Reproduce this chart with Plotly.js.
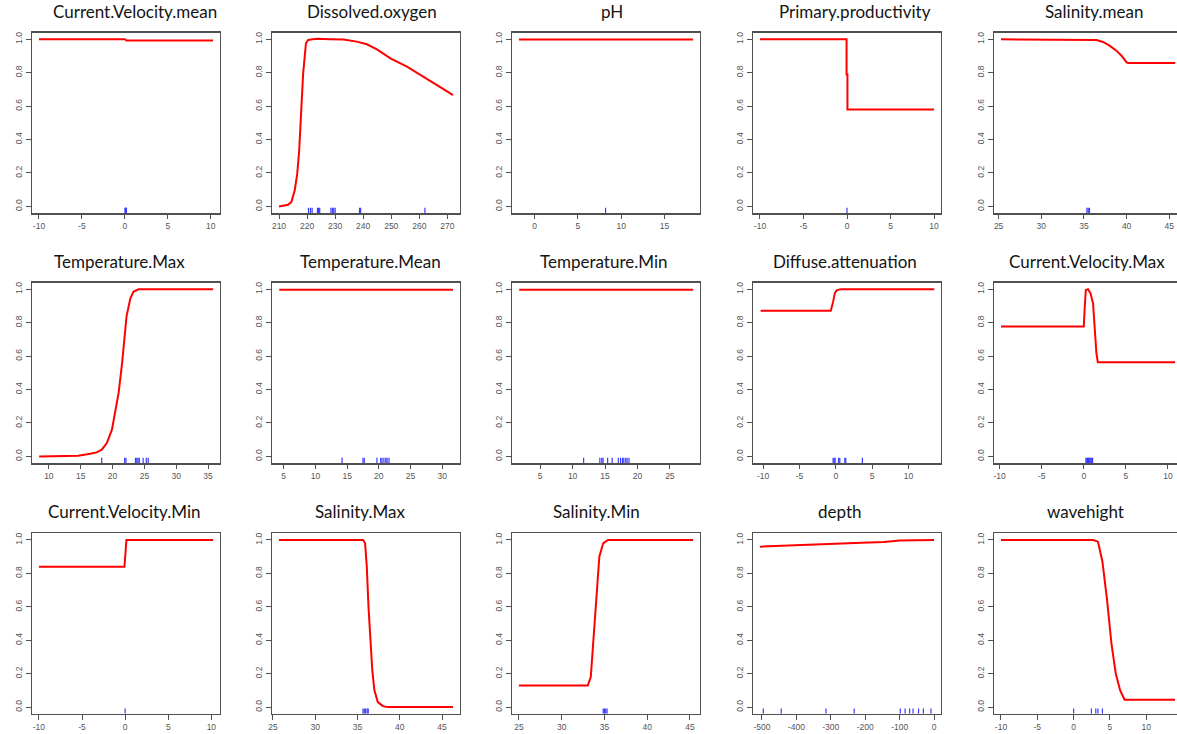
<!DOCTYPE html>
<html>
<head>
<meta charset="utf-8">
<script src="https://cdn.plot.ly/plotly-3.0.1.min.js"></script>
<style>
  html, body { margin: 0; padding: 0; overflow: hidden; background: #fff; }
  #chart { width: 1190px; height: 734px; }
</style>
</head>
<body>
<div id="chart"></div>
<script>
// ---- response curves (predictor value -> fitted response) and rug positions ----
const titles = [
  "Current.Velocity.mean", "Dissolved.oxygen", "pH", "Primary.productivity", "Salinity.mean",
  "Temperature.Max", "Temperature.Mean", "Temperature.Min", "Diffuse.attenuation", "Current.Velocity.Max",
  "Current.Velocity.Min", "Salinity.Max", "Salinity.Min", "depth", "wavehight"
];

const velMeanX = [-10, 0.0, 0.2, 10.27];
const velMeanY = [1.0, 1.0, 0.993, 0.993];
const velMeanRug = [0.02, 0.08, 0.12, 0.18];

const oxyX = [210.0, 212.0, 213.2, 214.4, 215.6, 216.5, 217.2, 217.8, 218.6, 219.6, 220.4, 222.0, 224.0, 228.0, 233.0, 237.7, 241.3, 244.9, 249.7, 255.6, 261.6, 267.6, 272.0];
const oxyY = [0.0, 0.004, 0.01, 0.026, 0.096, 0.196, 0.336, 0.536, 0.796, 0.976, 0.996, 1.0, 1.003, 1.0, 0.998, 0.986, 0.97, 0.94, 0.886, 0.836, 0.776, 0.712, 0.666];
const oxyRug = [220.5, 221.2, 221.8, 223.7, 224.1, 224.5, 228.5, 229.0, 229.5, 230.0, 238.7, 239.1, 262.0];

const phX = [-1.8, 18.3];
const phY = [0.998, 0.998];
const phRug = [8.2];

const prodX = [-10, -0.05, -0.05, 0.05, 0.05, 10];
const prodY = [1.0, 1.0, 0.79, 0.79, 0.58, 0.58];
const prodRug = [0.0];

const salMeanX = [25.28, 35.3, 36.0, 36.46, 37.24, 38.0, 38.8, 39.4, 40.0, 40.2, 45.7];
const salMeanY = [1.0, 1.0, 0.999, 0.996, 0.984, 0.962, 0.932, 0.902, 0.862, 0.858, 0.858];
const salMeanRug = [35.35, 35.5, 35.65];

const tMaxX = [8.47, 14.6, 16.5, 17.5, 18.3, 19.1, 19.9, 20.4, 20.95, 21.5, 21.8, 22.2, 22.8, 23.3, 24.1, 35.8];
const tMaxY = [0.0, 0.004, 0.016, 0.024, 0.04, 0.08, 0.16, 0.26, 0.38, 0.56, 0.70, 0.84, 0.946, 0.986, 1.0, 1.0];
const tMaxRug = [18.3, 21.9, 22.1, 23.6, 23.8, 24.0, 24.2, 24.8, 25.3, 25.6];

const tMeanX = [4.3, 31.7];
const tMeanY = [0.997, 0.997];
const tMeanRug = [14.2, 17.5, 17.7, 19.7, 20.3, 20.5, 20.8, 21.1, 21.3, 21.6];

const tMinX = [1.77, 28.6];
const tMinY = [0.997, 0.997];
const tMinRug = [11.7, 14.2, 14.5, 14.7, 15.4, 16.1, 17.05, 17.4, 17.7, 17.9, 18.2, 18.4, 18.7];

const diffX = [-10.35, -0.69, -0.37, -0.14, 0.09, 0.4, 0.78, 13.55];
const diffY = [0.872, 0.872, 0.926, 0.976, 0.992, 0.998, 1.0, 1.0];
const diffRug = [-0.37, -0.23, -0.09, 0.37, 0.55, 1.24, 1.37, 3.66];

const velMaxX = [-9.84, 0.0, 0.12, 0.24, 0.5, 0.8, 1.1, 1.3, 1.5, 1.67, 10.85];
const velMaxY = [0.777, 0.777, 0.9, 0.996, 1.0, 0.976, 0.916, 0.777, 0.617, 0.564, 0.564];
const velMaxRug = [0.25, 0.35, 0.45, 0.55, 0.65, 0.75, 0.85, 0.95, 1.05];

const velMinX = [-10, -0.08, 0.15, 10.2];
const velMinY = [0.84, 0.84, 1.0, 1.0];
const velMinRug = [0.0];

const salMaxX = [25.71, 35.65, 35.9, 36.1, 36.3, 36.5, 36.75, 37.0, 37.4, 38.0, 38.6, 46.3];
const salMaxY = [1.0, 1.0, 0.98, 0.84, 0.60, 0.40, 0.22, 0.10, 0.03, 0.006, 0.0, 0.0];
const salMaxRug = [35.65, 35.8, 35.96, 36.15, 36.27];

const salMinX = [25.0, 33.05, 33.4, 33.7, 34.1, 34.4, 34.85, 35.4, 45.36];
const salMinY = [0.13, 0.13, 0.18, 0.4, 0.66, 0.9, 0.98, 1.0, 1.0];
const salMinRug = [34.85, 35.0, 35.15, 35.3];

const depthX = [-506, -418, -314, -210, -145, -120, -100, 0];
const depthY = [0.96, 0.968, 0.976, 0.984, 0.988, 0.995, 0.997, 1.0];
const depthRug = [-496, -444, -314, -232, -98, -84, -71, -61, -45, -31, -9];

const waveX = [-10, 2.7, 3.35, 3.96, 4.6, 5.2, 5.8, 6.4, 7.0, 13.95];
const waveY = [1.0, 1.0, 0.99, 0.87, 0.64, 0.38, 0.2, 0.1, 0.044, 0.044];
const waveRug = [0.0, 2.44, 3.05, 3.35, 3.96];

const yTicks = [0, 0.2, 0.4, 0.6, 0.8, 1.0];

const curves = [
  [velMeanX, velMeanY, velMeanRug], [oxyX, oxyY, oxyRug], [phX, phY, phRug],
  [prodX, prodY, prodRug], [salMeanX, salMeanY, salMeanRug],
  [tMaxX, tMaxY, tMaxRug], [tMeanX, tMeanY, tMeanRug], [tMinX, tMinY, tMinRug],
  [diffX, diffY, diffRug], [velMaxX, velMaxY, velMaxRug],
  [velMinX, velMinY, velMinRug], [salMaxX, salMaxY, salMaxRug], [salMinX, salMinY, salMinRug],
  [depthX, depthY, depthRug], [waveX, waveY, waveRug]
];

// ---- panel geometry (pixels) and axis settings ----
const FIG_W = 1190, FIG_H = 734;
const colLeft = [32, 272, 512, 753, 994];
const rowTop = [32.6, 282.6, 533.3];
const boxW = 188, boxH = 180.5;
const Y_RANGE = [-0.04, 1.04];
const xRanges = [
  [-10.81, 11.08], [207.5, 274.5], [-2.6, 19.1], [-10.8, 10.8], [24.46, 46.49],
  [7.35, 36.87], [3.15, 32.8], [0.65, 29.65], [-11.4, 14.48], [-10.67, 11.67],
  [-10.8, 11.0], [24.89, 47.12], [24.19, 46.17], [-526, 20.2], [-10.96, 14.91]
];
const xSteps = [5, 10, 5, 5, 5, 5, 5, 5, 5, 5, 5, 5, 5, 100, 5];
const titleShift = [9, 6, 6.5, 8, 6, -7, 4, -2.5, -2.5, -1.3, -2.5, -5.7, -10, -6.6, -2.5];

const frameColor = "#505050";
const tickFont = { family: "Liberation Sans, Arial, sans-serif", size: 8.5, color: "#555555" };

function ticksFor(range, step) {
  const vals = [];
  const start = Math.ceil(range[0] / step) * step;
  for (let v = start; v <= range[1] + 1e-9; v += step) vals.push(Math.round(v * 1000) / 1000);
  return vals;
}

const traces = [];
const layout = {
  width: FIG_W, height: FIG_H,
  margin: { l: 0, r: 0, t: 0, b: 0, pad: 0 },
  paper_bgcolor: "#ffffff", plot_bgcolor: "#ffffff",
  showlegend: false, hovermode: false,
  annotations: []
};

titles.forEach((name, i) => {
  const row = Math.floor(i / 5), col = i % 5;
  const n = i + 1;
  const xa = "xaxis" + n, ya = "yaxis" + n;
  const xr = "x" + n, yr = "y" + n;
  const left = colLeft[col], top = rowTop[row];
  const [cx, cy, rug] = curves[i];

  const xv = ticksFor(xRanges[i], xSteps[i]);
  layout[xa] = {
    domain: [left / FIG_W, (left + boxW) / FIG_W],
    range: xRanges[i], anchor: yr,
    tickvals: xv, ticktext: xv.map(v => String(v)),
    ticks: "outside", ticklen: 4.5, tickwidth: 1, tickcolor: frameColor,
    showline: true, mirror: true, linecolor: frameColor, linewidth: 1.4,
    showgrid: false, zeroline: false, tickfont: tickFont, fixedrange: true
  };
  layout[ya] = {
    domain: [1 - (top + boxH) / FIG_H, 1 - top / FIG_H],
    range: Y_RANGE, anchor: xr,
    tickvals: yTicks, ticktext: yTicks.map(v => v.toFixed(1)), tickangle: -90,
    ticks: "outside", ticklen: 5, tickwidth: 1, tickcolor: frameColor,
    showline: true, mirror: true, linecolor: frameColor, linewidth: 1.4,
    showgrid: false, zeroline: false, tickfont: tickFont, fixedrange: true
  };

  // rug: short blue ticks rising from the bottom edge of the box
  const rugTop = Y_RANGE[0] + 0.03 * (Y_RANGE[1] - Y_RANGE[0]);
  const rx = [], ry = [];
  rug.forEach(v => { rx.push(v, v, null); ry.push(Y_RANGE[0], rugTop, null); });
  traces.push({
    x: rx, y: ry, xaxis: xr, yaxis: yr, type: "scatter", mode: "lines",
    line: { color: "#3a3aff", width: 1.2 }
  });

  traces.push({
    x: cx, y: cy, xaxis: xr, yaxis: yr, type: "scatter", mode: "lines",
    line: { color: "#ff0000", width: 2 }
  });

  layout.annotations.push({
    text: name, xref: "paper", yref: "paper",
    x: (left + boxW / 2 + titleShift[i]) / FIG_W,
    y: 1 - (top - 9) / FIG_H,
    xanchor: "center", yanchor: "bottom", showarrow: false,
    font: { family: "Lato, 'Open Sans', sans-serif", size: 17, color: "#141414" }
  });
});

Plotly.newPlot("chart", traces, layout, { staticPlot: true, displayModeBar: false });
</script>
</body>
</html>
